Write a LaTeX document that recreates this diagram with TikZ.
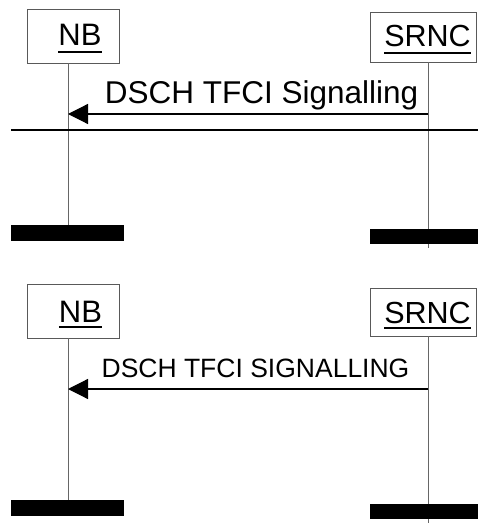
\documentclass[tikz,border=0pt]{standalone}
\usepackage{fontspec}
\setmainfont{Liberation Sans}
\usetikzlibrary{arrows.meta}
\begin{document}
\begin{tikzpicture}[x=1pt,y=-1pt,
  entbox/.style={draw=black!65, line width=0.8pt, inner sep=0pt},
  enttext/.style={anchor=base, inner sep=0pt, font=\fontsize{31}{31}\selectfont},
  uline/.style={line width=2.6pt},
  life/.style={draw=black!60, line width=0.9pt},
  bar/.style={fill=black, inner sep=0pt},
  msg/.style={line width=1.2pt, -{Triangle[length=20pt,width=20pt]}},
  msgtext/.style={anchor=base, inner sep=0pt}]
\useasboundingbox (0,0) rectangle (478,529);

% ---------- upper chart ----------
\node[entbox, minimum width=92pt, minimum height=54pt] (nb1) at (73,36) {};
\node[entbox, minimum width=106pt, minimum height=50pt] (rn1) at (423,37) {};
\node[enttext] (nb1t) at (80,46) {NB};
\node[enttext, font=\fontsize{30.5}{30.5}\selectfont] (rn1t) at (427.5,47) {SRNC};
\draw[uline] ([yshift=-6pt]nb1t.base west) -- ([yshift=-6pt]nb1t.base east);
\draw[uline] ([yshift=-6pt]rn1t.base west) -- ([yshift=-6pt]rn1t.base east);

\coordinate (nb1end) at (68,225);
\coordinate (rn1end) at (428,248);
\draw[life] (nb1end |- nb1.south) -- (nb1end);
\draw[life] (rn1end |- rn1.south) -- (rn1end);

\coordinate (s1) at (428,114);
\coordinate (n1) at (68,114);
\draw[msg] (s1) -- (n1);
\node[msgtext, font=\fontsize{31.5}{31.5}\selectfont] (m1) at (261.5,104) {DSCH TFCI Signalling};

\coordinate (hl) at (11,130);
\coordinate (hr) at (478,130);
\draw[line width=2.6pt] (hl) -- (hr);

\node[bar, minimum width=113pt, minimum height=16pt] (nb1bar) at (67.5,233) {};
\node[bar, minimum width=108pt, minimum height=15pt] (rn1bar) at (424,236.5) {};

% ---------- lower chart ----------
\node[entbox, minimum width=92pt, minimum height=54pt] (nb2) at (73,311) {};
\node[entbox, minimum width=106pt, minimum height=48pt] (rn2) at (423,312) {};
\node[enttext] (nb2t) at (80.5,322) {NB};
\node[enttext, font=\fontsize{30.5}{30.5}\selectfont] (rn2t) at (427.5,323) {SRNC};
\draw[uline] ([yshift=-5pt]nb2t.base west) -- ([yshift=-5pt]nb2t.base east);
\draw[uline] ([yshift=-5pt]rn2t.base west) -- ([yshift=-5pt]rn2t.base east);

\coordinate (nb2end) at (68,500);
\coordinate (rn2end) at (428,523);
\draw[life] (nb2end |- nb2.south) -- (nb2end);
\draw[life] (rn2end |- rn2.south) -- (rn2end);

\coordinate (s2) at (428,389);
\coordinate (n2) at (68,389);
\draw[msg] (s2) -- (n2);
\node[msgtext, font=\fontsize{26.5}{26.5}\selectfont] (m2) at (255.5,377) {DSCH TFCI SIGNALLING};

\node[bar, minimum width=113pt, minimum height=16pt] (nb2bar) at (67.5,508) {};
\node[bar, minimum width=108pt, minimum height=15pt] (rn2bar) at (424,511.5) {};
\end{tikzpicture}
\end{document}
